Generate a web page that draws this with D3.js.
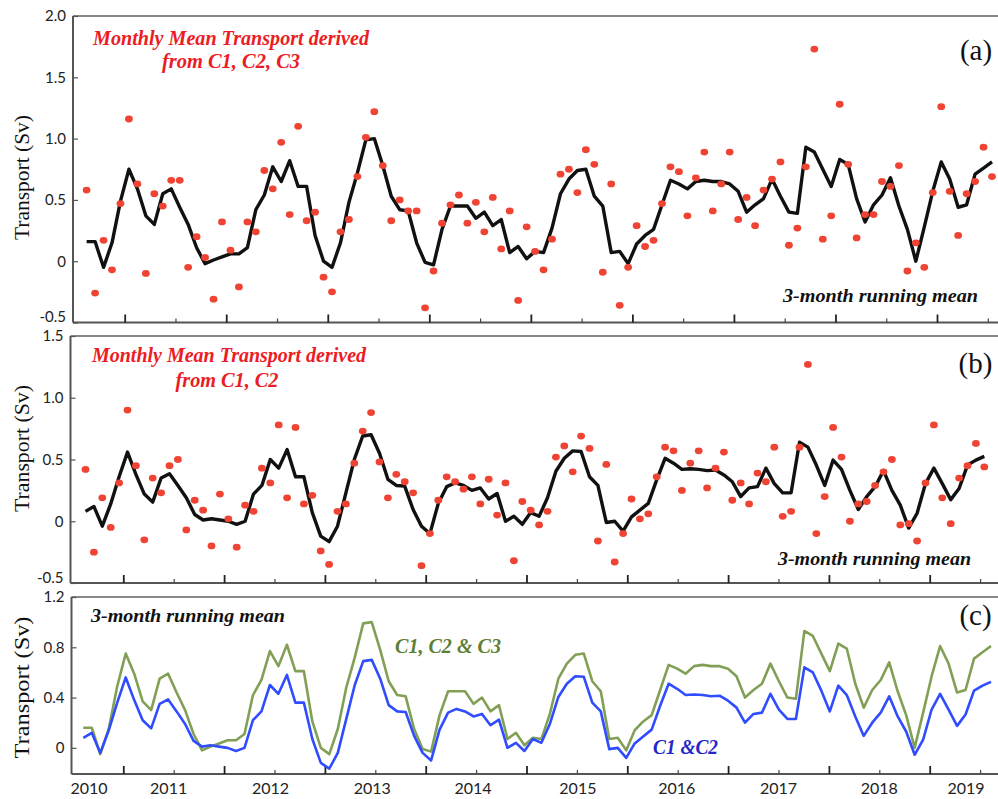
<!DOCTYPE html>
<html>
<head>
<meta charset="utf-8">
<script src="https://cdn.jsdelivr.net/npm/d3@7"></script>
<style>
  body { margin: 0; background: #fff; }
</style>
</head>
<body>
<div id="chart"></div>
<script>
// Monthly time steps (mid-month, decimal years) Aug 2010 - Jul 2019
var months = d3.range(108).map(function(i) { return 2010 + (7.5 + i) / 12; });

// (a) monthly mean transport from C1, C2, C3 (Sv)
var dotsA = [0.58, -0.26, 0.17, -0.07, 0.47, 1.16, 0.63, -0.10, 0.55, 0.45,
  0.66, 0.66, -0.05, 0.20, 0.03, -0.31, 0.32, 0.09, -0.21, 0.32,
  0.24, 0.74, 0.59, 0.97, 0.38, 1.10, 0.33, 0.40, -0.13, -0.25,
  0.24, 0.34, 0.69, 1.01, 1.22, 0.78, 0.33, 0.50, 0.41, 0.41,
  -0.38, -0.08, 0.31, 0.46, 0.54, 0.31, 0.48, 0.24, 0.52, 0.10,
  0.41, -0.32, 0.28, 0.08, -0.07, 0.18, 0.71, 0.75, 0.56, 0.91,
  0.79, -0.09, 0.63, -0.36, -0.05, 0.29, 0.12, 0.17, 0.47, 0.77,
  0.73, 0.37, 0.68, 0.89, 0.41, 0.63, 0.89, 0.34, 0.52, 0.29,
  0.58, 0.67, 0.81, 0.13, 0.27, 0.77, 1.73, 0.18, 0.37, 1.28,
  0.79, 0.19, 0.38, 0.38, 0.65, 0.61, 0.78, -0.08, 0.15, -0.05,
  0.56, 1.26, 0.57, 0.21, 0.55, 0.65, 0.93, 0.69];

// (a) 3-month running mean
var meanA = [0.16, 0.16, -0.05, 0.15, 0.49, 0.75, 0.59, 0.37, 0.30, 0.55,
  0.59, 0.44, 0.30, 0.11, -0.02, 0.01, 0.035, 0.06, 0.06, 0.11,
  0.42, 0.54, 0.77, 0.65, 0.82, 0.61, 0.61, 0.21, 0.00, -0.05,
  0.15, 0.48, 0.72, 0.99, 1.00, 0.78, 0.53, 0.42, 0.41, 0.15,
  -0.01, -0.03, 0.26, 0.45, 0.45, 0.45, 0.35, 0.40, 0.29, 0.34,
  0.07, 0.12, 0.02, 0.08, 0.07, 0.27, 0.55, 0.67, 0.74, 0.75,
  0.53, 0.45, 0.07, 0.08, -0.02, 0.14, 0.21, 0.26, 0.46, 0.66,
  0.63, 0.59, 0.65, 0.66, 0.65, 0.65, 0.63, 0.57, 0.40, 0.46,
  0.51, 0.67, 0.53, 0.40, 0.39, 0.93, 0.89, 0.75, 0.61, 0.83,
  0.79, 0.51, 0.32, 0.46, 0.54, 0.68, 0.45, 0.26, 0.00, 0.28,
  0.57, 0.81, 0.67, 0.44, 0.46, 0.71, 0.76, 0.81];

// (b) monthly mean transport from C1, C2 (Sv)
var dotsB = [0.42, -0.25, 0.19, -0.05, 0.31, 0.90, 0.45, -0.15, 0.35, 0.23,
  0.45, 0.50, -0.07, 0.17, 0.09, -0.20, 0.22, 0.02, -0.21, 0.13,
  0.08, 0.43, 0.31, 0.78, 0.19, 0.76, 0.14, 0.21, -0.24, -0.35,
  0.08, 0.14, 0.47, 0.73, 0.88, 0.48, 0.19, 0.38, 0.32, 0.23,
  -0.36, -0.10, 0.17, 0.36, 0.32, 0.26, 0.36, 0.14, 0.34, 0.05,
  0.31, -0.32, 0.16, 0.09, -0.03, 0.08, 0.52, 0.61, 0.40, 0.69,
  0.59, -0.16, 0.46, -0.33, -0.10, 0.18, 0.02, 0.06, 0.36, 0.60,
  0.57, 0.25, 0.47, 0.57, 0.27, 0.43, 0.56, 0.17, 0.31, 0.14,
  0.39, 0.32, 0.60, 0.04, 0.08, 0.60, 1.27, -0.10, 0.20, 0.76,
  0.52, 0.00, 0.14, 0.16, 0.29, 0.40, 0.50, -0.03, -0.02, -0.16,
  0.31, 0.78, 0.19, -0.02, 0.35, 0.45, 0.63, 0.44];

// (b) 3-month running mean
var meanB = [0.08, 0.12, -0.04, 0.14, 0.36, 0.56, 0.38, 0.22, 0.155, 0.35,
  0.385, 0.29, 0.19, 0.055, 0.01, 0.02, 0.01, 0.00, -0.025, 0.00,
  0.22, 0.29, 0.50, 0.43, 0.58, 0.36, 0.36, 0.07, -0.12, -0.165,
  -0.04, 0.23, 0.50, 0.69, 0.70, 0.55, 0.34, 0.29, 0.285, 0.095,
  -0.04, -0.10, 0.145, 0.28, 0.31, 0.29, 0.25, 0.27, 0.18, 0.225,
  0.00, 0.04, -0.025, 0.07, 0.04, 0.19, 0.405, 0.51, 0.57, 0.565,
  0.36, 0.29, -0.01, 0.00, -0.08, 0.035, 0.09, 0.145, 0.335, 0.51,
  0.47, 0.42, 0.425, 0.42, 0.41, 0.415, 0.375, 0.32, 0.20, 0.27,
  0.28, 0.43, 0.305, 0.23, 0.23, 0.64, 0.60, 0.455, 0.29, 0.495,
  0.42, 0.25, 0.095, 0.20, 0.28, 0.41, 0.25, 0.13, -0.055, 0.065,
  0.305, 0.43, 0.305, 0.175, 0.265, 0.455, 0.495, 0.525];

// Axis ticks and labels
var ticksA = [-0.5, 0, 0.5, 1.0, 1.5, 2.0];
var ticksB = [-0.5, 0, 0.5, 1.0, 1.5];
var ticksC = [0, 0.4, 0.8, 1.2];
var majorTicks = [2011, 2012, 2013, 2014, 2015, 2016, 2017, 2018, 2019];
var minorTicks = [2011.5, 2012.5, 2013.5, 2014.5, 2015.5, 2016.5, 2017.5, 2018.5, 2019.5];
var yearLabels = ["2010", "2011", "2012", "2013", "2014", "2015", "2016", "2017", "2018", "2019"];
var yearLabelPos = [2010.66, 2011.45, 2012.46, 2013.47, 2014.47, 2015.51, 2016.49, 2017.5, 2018.5, 2019.36];

var width = 998, height = 799;
var serif = "'Liberation Serif', 'Times New Roman', serif";
var sans = "Lato, 'Liberation Sans', sans-serif";
var red = "#ec1c24", dotColor = "#ef4433";

var svg = d3.select("#chart")
  .append("svg")
  .attr("width", width)
  .attr("height", height);

function fmt(d) { return d === 0 ? "0" : d.toFixed(1); }

function drawPanel(p) {
  var g = svg.append("g");

  var x = d3.scaleLinear().domain([2011, 2019]).range(p.xRange);
  // panel (c) curves were pasted in slightly stretched, so it gets its own data scale
  var xData = p.dataRange
    ? d3.scaleLinear().domain([months[0], months[months.length - 1]]).range(p.dataRange)
    : x;
  var y = d3.scaleLinear().domain(p.yDomain).range([p.bottom, p.top]);

  // frame
  g.append("line")
    .attr("x1", p.left).attr("x2", width)
    .attr("y1", p.top).attr("y2", p.top)
    .attr("stroke", "#888").attr("stroke-width", 1.8);
  g.append("line")
    .attr("x1", p.left).attr("x2", width)
    .attr("y1", p.bottom).attr("y2", p.bottom)
    .attr("stroke", "#555").attr("stroke-width", 2);
  g.append("line")
    .attr("x1", p.left).attr("x2", p.left)
    .attr("y1", p.top).attr("y2", p.bottom)
    .attr("stroke", "#555").attr("stroke-width", 2);

  // y axis, inward ticks
  var ya = g.append("g")
    .attr("transform", "translate(" + p.left + ",0)")
    .call(d3.axisLeft(y).tickValues(p.yTicks).tickSize(-5).tickSizeOuter(0).tickPadding(7).tickFormat(fmt));
  ya.select(".domain").remove();
  ya.selectAll("line").attr("stroke", "#555").attr("stroke-width", 1.2);
  ya.selectAll("text")
    .style("font-family", sans)
    .style("font-size", "15px")
    .attr("fill", "#222");
  // lowest label sits a little above its tick, clear of the panel below
  if (p.liftBottomLabel) {
    ya.selectAll("text")
      .filter(function(d) { return d === p.yTicks[0]; })
      .attr("y", -p.liftBottomLabel);
  }

  // x axis: major ticks at years, minor at mid-year
  var xa = g.append("g")
    .attr("transform", "translate(0," + p.bottom + ")")
    .call(d3.axisBottom(x).tickValues(majorTicks).tickSize(-8).tickSizeOuter(0).tickFormat(""));
  xa.select(".domain").remove();
  xa.selectAll("line").attr("stroke", "#222").attr("stroke-width", 1.8);

  var xm = g.append("g")
    .attr("transform", "translate(0," + p.bottom + ")")
    .call(d3.axisBottom(x).tickValues(minorTicks).tickSize(-4).tickSizeOuter(0).tickFormat(""));
  xm.select(".domain").remove();
  xm.selectAll("line").attr("stroke", "#444").attr("stroke-width", 1.2);

  // y axis title
  g.append("text")
    .attr("transform", "translate(29," + p.titleY + ") rotate(-90)")
    .attr("text-anchor", "middle")
    .attr("textLength", p.titleLen)
    .attr("lengthAdjust", "spacingAndGlyphs")
    .style("font-family", serif)
    .style("font-size", "21px")
    .attr("fill", "#111")
    .text("Transport (Sv)");

  // curves
  var line = d3.line()
    .x(function(d, i) { return xData(months[i]); })
    .y(function(d) { return y(d); });

  p.lines.forEach(function(l) {
    g.append("path")
      .datum(l.values)
      .attr("d", line)
      .attr("fill", "none")
      .attr("stroke", l.color)
      .attr("stroke-width", l.width)
      .attr("stroke-linejoin", "round");
  });

  // monthly dots
  if (p.dots) {
    g.selectAll(".dot")
      .data(p.dots)
      .enter().append("ellipse")
      .attr("cx", function(d, i) { return xData(months[i]); })
      .attr("cy", function(d) { return y(d); })
      .attr("rx", 3.9)
      .attr("ry", 3.4)
      .attr("fill", dotColor);
  }

  // annotations
  p.texts.forEach(function(t) {
    var el = g.append("text")
      .attr("x", t.x)
      .attr("y", t.y)
      .attr("text-anchor", t.anchor || "start")
      .style("font-family", serif)
      .style("font-size", t.size + "px")
      .style("font-weight", t.bold ? "bold" : "normal")
      .style("font-style", t.italic ? "italic" : "normal")
      .attr("fill", t.color)
      .text(t.text);
    if (t.len) el.attr("textLength", t.len).attr("lengthAdjust", "spacingAndGlyphs");
  });

  // year labels (bottom panel only)
  if (p.yearLabels) {
    g.selectAll(".year")
      .data(yearLabels)
      .enter().append("text")
      .attr("x", function(d, i) { return x(yearLabelPos[i]); })
      .attr("y", p.bottom + 20)
      .attr("text-anchor", "middle")
      .style("font-family", sans)
      .style("font-size", "16px")
      .attr("fill", "#222")
      .text(function(d) { return d; });
  }
}

// (a)
drawPanel({
  left: 73, top: 16, bottom: 322.5,
  xRange: [124.7, 937],
  yDomain: [-0.5, 2.0], yTicks: ticksA, liftBottomLabel: 6,
  titleY: 177.5, titleLen: 125,
  lines: [{ values: meanA, color: "#111", width: 3.4 }],
  dots: dotsA,
  texts: [
    { text: "Monthly Mean Transport derived", x: 231, y: 45, anchor: "middle", size: 20, bold: true, italic: true, color: red, len: 276 },
    { text: "from C1, C2, C3", x: 231, y: 68, anchor: "middle", size: 20, bold: true, italic: true, color: red, len: 138 },
    { text: "(a)", x: 976, y: 60, anchor: "middle", size: 29, color: "#111" },
    { text: "3-month running mean", x: 783, y: 302, size: 19, bold: true, italic: true, color: "#111", len: 195 }
  ]
});

// (b)
drawPanel({
  left: 70.5, top: 336, bottom: 583,
  xRange: [123.3, 929.7],
  yDomain: [-0.5, 1.5], yTicks: ticksB, liftBottomLabel: 5,
  titleY: 448.5, titleLen: 127,
  lines: [{ values: meanB, color: "#111", width: 3.4 }],
  dots: dotsB,
  texts: [
    { text: "Monthly Mean Transport derived", x: 229, y: 362, anchor: "middle", size: 20, bold: true, italic: true, color: red, len: 274 },
    { text: "from C1, C2", x: 227, y: 387, anchor: "middle", size: 20, bold: true, italic: true, color: red, len: 103 },
    { text: "(b)", x: 975.5, y: 373, anchor: "middle", size: 29, color: "#111" },
    { text: "3-month running mean", x: 778, y: 565, size: 19, bold: true, italic: true, color: "#111", len: 193 }
  ]
});

// (c)
drawPanel({
  left: 71.5, top: 597, bottom: 774,
  xRange: [123.3, 929.7],
  dataRange: [83.3, 991],
  yDomain: [-0.208, 1.2], yTicks: ticksC,
  titleY: 687.5, titleLen: 142,
  lines: [
    { values: meanA, color: "#82a055", width: 2.6 },
    { values: meanB, color: "#2f4cff", width: 2.6 }
  ],
  yearLabels: true,
  texts: [
    { text: "3-month running mean", x: 91, y: 622, size: 19, bold: true, italic: true, color: "#111", len: 194 },
    { text: "C1, C2 & C3", x: 395, y: 653, size: 20, bold: true, italic: true, color: "#5f7f35", len: 106 },
    { text: "C1 &C2", x: 653, y: 754, size: 20, bold: true, italic: true, color: "#2626c8", len: 65 },
    { text: "(c)", x: 975.5, y: 625, anchor: "middle", size: 29, color: "#111" }
  ]
});
</script>
</body>
</html>
